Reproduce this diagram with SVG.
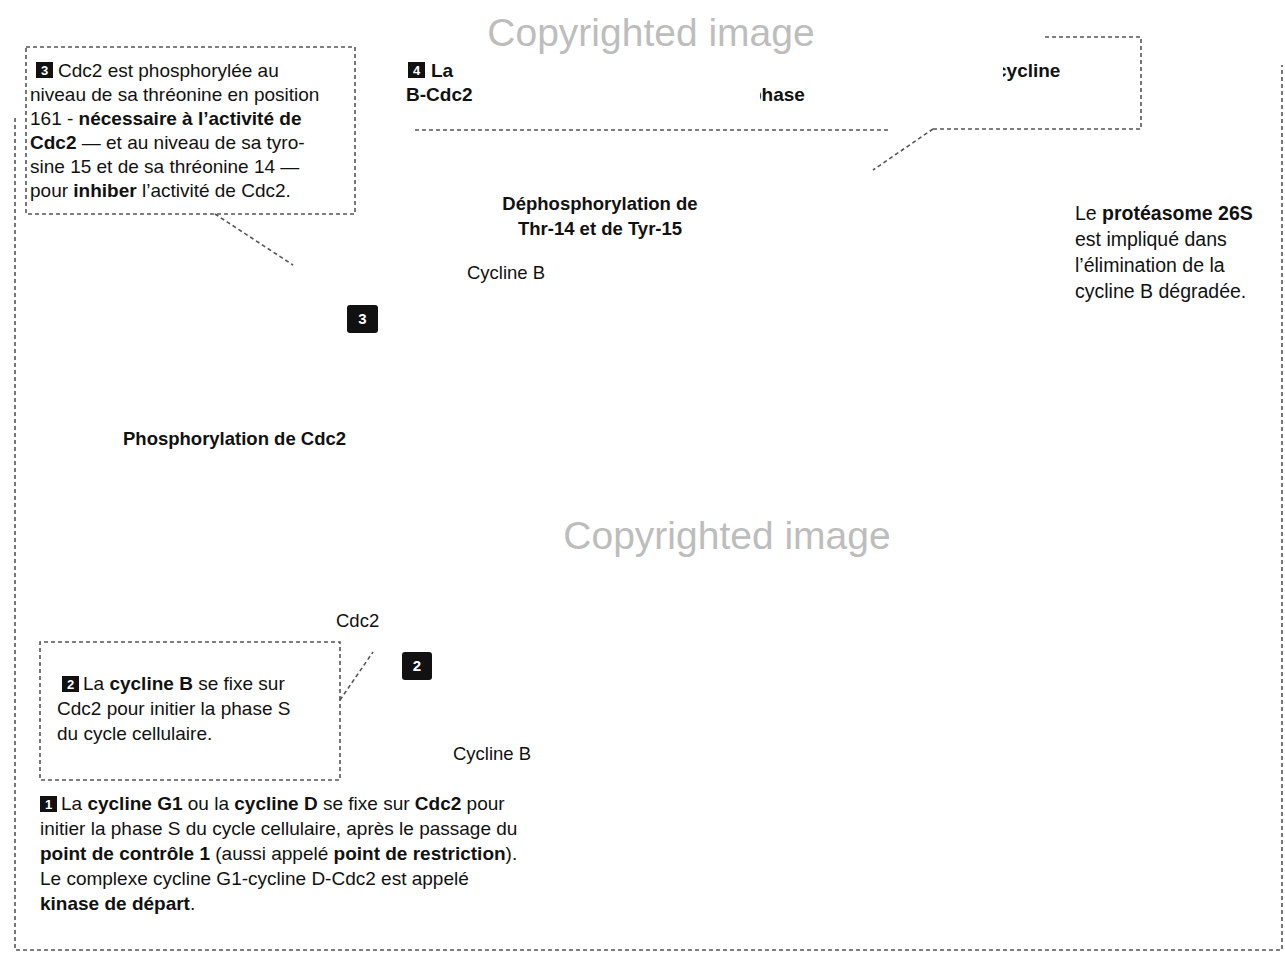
<svg xmlns="http://www.w3.org/2000/svg" width="1285" height="955" viewBox="0 0 1285 955">
<style>
text{font-family:"Liberation Sans",Arial,sans-serif;fill:#111;}
.t{font-size:19px;}
.l{font-size:18.5px;}
.p{font-size:19.5px;}
.b{font-weight:bold;}
.dash{fill:none;stroke:#555;stroke-width:1.6;stroke-dasharray:4 3;}
.badge{fill:#111;}
.bn{fill:#fff;font-weight:bold;font-size:13px;text-anchor:middle;}
.wm{fill:#bdbdbd;font-size:39px;font-family:"Liberation Sans",Arial,sans-serif;text-anchor:middle;}
</style>
<defs>
<clipPath id="cl1"><rect x="1003" y="50" width="80" height="40"/></clipPath>
<clipPath id="cl2"><rect x="760" y="80" width="60" height="30"/></clipPath>
</defs>
<rect width="1285" height="955" fill="#fff"/>

<g id="frame">
<path class="dash" d="M15,118 V950 H1282 V65"/>
</g>

<g id="connectors">
<path class="dash" d="M215,214 L293,265"/>
<path class="dash" d="M933,129 L873,170"/>
<path class="dash" d="M340,700 L373,652"/>
</g>

<g id="box3">
<rect class="dash" x="26" y="47" width="329" height="167"/>
<rect class="badge" x="36" y="62" width="17" height="16"/>
<text class="bn" x="44.5" y="75">3</text>
<text class="t" x="58" y="77">Cdc2 est phosphorylée au</text>
<text class="t" x="30" y="101">niveau de sa thréonine en position</text>
<text class="t" x="30" y="125">161 - <tspan class="b">nécessaire à l’activité de</tspan></text>
<text class="t" x="30" y="149"><tspan class="b">Cdc2</tspan> — et au niveau de sa tyro-</text>
<text class="t" x="30" y="173">sine 15 et de sa thréonine 14 —</text>
<text class="t" x="30" y="197">pour <tspan class="b">inhiber</tspan> l’activité de Cdc2.</text>
</g>

<g id="box4">
<path class="dash" d="M415,130 H888 M933,129 H1141 V37 H1045"/>
<rect class="badge" x="408" y="62" width="17" height="16"/>
<text class="bn" x="416.5" y="75">4</text>
<text class="t b" x="431" y="77">La</text>
<text class="t b" x="406" y="101">B-Cdc2</text>
<text class="t b" x="750" y="101" clip-path="url(#cl2)">phase</text>
<text class="t b" x="996" y="77" clip-path="url(#cl1)">cycline</text>
</g>

<g id="proteasome">
<text class="p" x="1075" y="220">Le <tspan class="b">protéasome 26S</tspan></text>
<text class="p" x="1075" y="246">est impliqué dans</text>
<text class="p" x="1075" y="272">l’élimination de la</text>
<text class="p" x="1075" y="298">cycline B dégradée.</text>
</g>

<g id="dephospho">
<text class="l b" x="600" y="210" text-anchor="middle">Déphosphorylation de</text>
<text class="l b" x="600" y="235" text-anchor="middle">Thr-14 et de Tyr-15</text>
</g>

<g id="cyclineB1">
<text class="l" x="467" y="279">Cycline B</text>
</g>

<g id="badge3">
<rect class="badge" x="347" y="305" width="31" height="28" rx="3"/>
<text class="bn" x="362.5" y="324" style="font-size:15px">3</text>
</g>

<g id="phospho">
<text class="l b" x="123" y="445">Phosphorylation de Cdc2</text>
</g>

<g id="watermarks">
<text class="wm" x="651" y="46">Copyrighted image</text>
<text class="wm" x="727" y="549">Copyrighted image</text>
</g>

<g id="cdc2">
<text class="l" x="336" y="627">Cdc2</text>
</g>

<g id="box2">
<path class="dash" d="M340,700 V642 H40 V780 H340 V700"/>
<rect class="badge" x="62" y="676" width="17" height="16"/>
<text class="bn" x="70.5" y="689">2</text>
<text class="t" x="83" y="690">La <tspan class="b">cycline B</tspan> se fixe sur</text>
<text class="t" x="57" y="715">Cdc2 pour initier la phase S</text>
<text class="t" x="57" y="740">du cycle cellulaire.</text>
</g>

<g id="badge2">
<rect class="badge" x="402" y="652" width="30" height="28" rx="3"/>
<text class="bn" x="417" y="671" style="font-size:15px">2</text>
</g>

<g id="cyclineB2">
<text class="l" x="453" y="760">Cycline B</text>
</g>

<g id="box1">
<rect class="badge" x="40" y="796" width="17" height="16"/>
<text class="bn" x="48.5" y="809">1</text>
<text class="t" x="61" y="810">La <tspan class="b">cycline G1</tspan> ou la <tspan class="b">cycline D</tspan> se fixe sur <tspan class="b">Cdc2</tspan> pour</text>
<text class="t" x="40" y="835">initier la phase S du cycle cellulaire, après le passage du</text>
<text class="t" x="40" y="860"><tspan class="b">point de contrôle 1</tspan> (aussi appelé <tspan class="b">point de restriction</tspan>).</text>
<text class="t" x="40" y="885">Le complexe cycline G1-cycline D-Cdc2 est appelé</text>
<text class="t" x="40" y="910"><tspan class="b">kinase de départ</tspan>.</text>
</g>
</svg>
